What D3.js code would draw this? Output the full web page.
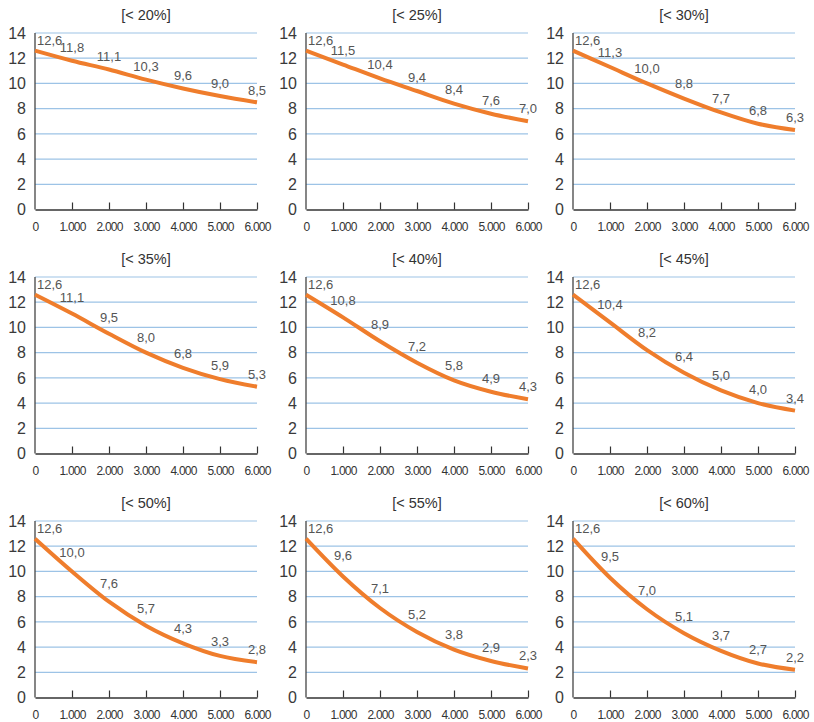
<!DOCTYPE html>
<html>
<head>
<meta charset="utf-8">
<script src="https://cdn.jsdelivr.net/npm/d3@7"></script>
<style>
  html, body { margin: 0; padding: 0; background: #fff; }
  svg { display: block; font-family: "Liberation Sans", Arial, sans-serif; }
</style>
</head>
<body>
<svg id="chart" width="814" height="722"></svg>
<script>
// ---- data ----
const xValues = [0, 1000, 2000, 3000, 4000, 5000, 6000];
const xTickLabels = ["0", "1.000", "2.000", "3.000", "4.000", "5.000", "6.000"];
const yTicks = [0, 2, 4, 6, 8, 10, 12, 14];
const panelTitles = ["[< 20%]", "[< 25%]", "[< 30%]", "[< 35%]", "[< 40%]", "[< 45%]", "[< 50%]", "[< 55%]", "[< 60%]"];
const s20 = [12.6, 11.8, 11.1, 10.3, 9.6, 9.0, 8.5];
const s25 = [12.6, 11.5, 10.4, 9.4, 8.4, 7.6, 7.0];
const s30 = [12.6, 11.3, 10.0, 8.8, 7.7, 6.8, 6.3];
const s35 = [12.6, 11.1, 9.5, 8.0, 6.8, 5.9, 5.3];
const s40 = [12.6, 10.8, 8.9, 7.2, 5.8, 4.9, 4.3];
const s45 = [12.6, 10.4, 8.2, 6.4, 5.0, 4.0, 3.4];
const s50 = [12.6, 10.0, 7.6, 5.7, 4.3, 3.3, 2.8];
const s55 = [12.6, 9.6, 7.1, 5.2, 3.8, 2.9, 2.3];
const s60 = [12.6, 9.5, 7.0, 5.1, 3.7, 2.7, 2.2];
const seriesList = [s20, s25, s30, s35, s40, s45, s50, s55, s60];

// ---- layout ----
const colLeft = [35, 306, 573];
const rowTop = [33, 277, 521];
const plotW = 222, plotH = 176.5;

const svg = d3.select("#chart");
const fmt = v => v.toFixed(1).replace(".", ",");

seriesList.forEach((vals, i) => {
  const col = i % 3, row = Math.floor(i / 3);
  const g = svg.append("g").attr("transform", `translate(${colLeft[col]},${rowTop[row]})`);
  const x = d3.scaleLinear().domain([0, 6000]).range([0, plotW]);
  const y = d3.scaleLinear().domain([0, 14]).range([plotH, 0]);

  // gridlines
  g.selectAll("line.grid").data(yTicks.filter(t => t > 0)).join("line")
    .attr("x1", 0).attr("x2", plotW)
    .attr("y1", d => y(d)).attr("y2", d => y(d))
    .attr("stroke", "#9dc3e6").attr("stroke-width", 1.2);

  // y labels
  g.selectAll("text.ylab").data(yTicks).join("text")
    .attr("x", -9).attr("y", d => y(d)).attr("dy", "0.36em")
    .attr("text-anchor", "end").attr("font-size", 16).attr("fill", "#3a3a3a")
    .text(d => d);

  // y axis line
  g.append("line").attr("x1", 0).attr("x2", 0).attr("y1", y(14)).attr("y2", plotH)
    .attr("stroke", "#444").attr("stroke-width", 1.3);

  // x axis
  const xAxis = d3.axisBottom(x).tickValues(xValues).tickSize(-7).tickSizeOuter(0)
    .tickFormat((d, k) => xTickLabels[k]);
  const ax = g.append("g").attr("transform", `translate(0,${plotH})`).call(xAxis);
  ax.select(".domain").attr("stroke", "#333").attr("stroke-width", 1.3);
  ax.selectAll(".tick line").attr("stroke", "#333").attr("stroke-width", 1.2);
  ax.selectAll(".tick text").attr("y", 12.5).attr("font-size", 12).attr("letter-spacing", "-0.8")
    .attr("fill", "#333").attr("font-family", "Liberation Sans, Arial, sans-serif");
  ax.selectAll(".tick").filter(d => d === 0).select("line").remove();

  // title
  g.append("text").attr("x", plotW / 2).attr("y", -13).attr("text-anchor", "middle")
    .attr("font-size", 14.5).attr("fill", "#333").text(panelTitles[i]);

  // line
  const pts = xValues.map((xv, k) => [xv, vals[k]]);
  g.append("path").datum(pts)
    .attr("fill", "none").attr("stroke", "#ef7d2c").attr("stroke-width", 4)
    .attr("stroke-linejoin", "round")
    .attr("d", d3.line().x(d => x(d[0])).y(d => y(d[1])).curve(d3.curveMonotoneX));

  // data labels
  g.selectAll("text.dl").data(pts).join("text")
    .attr("x", (d, k) => k === 0 ? x(d[0]) + 2 : x(d[0]))
    .attr("y", (d, k) => {
      if (k === 0) return y(d[1]) - 5.5;
      const slope = Math.abs(y(pts[k - 1][1]) - y(d[1])) / (x(d[0]) - x(pts[k - 1][0]));
      return y(d[1]) - (6 + 10 * slope);
    })
    .attr("text-anchor", (d, k) => k === 0 ? "start" : "middle")
    .attr("font-size", 13).attr("fill", "#555")
    .text(d => fmt(d[1]));
});
</script>
</body>
</html>
